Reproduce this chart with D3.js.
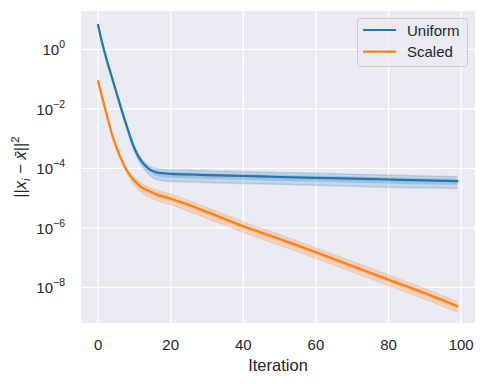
<!DOCTYPE html>
<html>
<head>
<meta charset="utf-8">
<script src="https://cdn.jsdelivr.net/npm/d3@7"></script>
<style>
  body { margin: 0; background: #fff; }
  svg text { font-family: "Liberation Sans", Arial, sans-serif; fill: #262626; }
</style>
</head>
<body>
<svg id="chart" width="486" height="384"></svg>
<script>
var iters = [0, 1, 2, 4, 6, 8, 10, 12, 14, 16, 18, 20, 25, 30, 40, 50, 60, 70, 80, 90, 99];

var uniformMean = [6.6, 1.9, 0.65, 0.095, 0.0145, 2.4e-3, 4.7e-4, 1.7e-4, 9.6e-5, 7.4e-5, 6.8e-5,
    6.5e-5, 6.2e-5, 5.9e-5, 5.5e-5, 5.1e-5, 4.8e-5, 4.5e-5, 4.2e-5, 3.9e-5, 3.7e-5];
var uniformHi = [7.2, 2.1, 0.71, 0.107, 0.0162, 2.75e-3, 5.5e-4, 2.0e-4, 1.2e-4, 9.8e-5, 9.1e-5,
    8.9e-5, 8.7e-5, 8.3e-5, 7.8e-5, 7.2e-5, 6.8e-5, 6.3e-5, 5.9e-5, 5.5e-5, 5.2e-5];
var uniformLo = [6.0, 1.7, 0.58, 0.083, 0.0123, 2.0e-3, 3.7e-4, 1.25e-4, 6.1e-5, 4.3e-5, 3.8e-5,
    3.6e-5, 3.5e-5, 3.3e-5, 3.1e-5, 2.9e-5, 2.7e-5, 2.5e-5, 2.3e-5, 2.2e-5, 2.1e-5];

var scaledMean = [0.085, 0.028, 0.0095, 1.2e-3, 2.6e-4, 8.1e-5, 3.8e-5, 2.3e-5, 1.74e-5, 1.35e-5, 1.12e-5,
    9.5e-6, 5.8e-6, 3.4e-6, 1.12e-6, 4.2e-7, 1.5e-7, 5.2e-8, 1.8e-8, 6.3e-9, 2.3e-9];
var scaledHi = [0.093, 0.031, 0.0105, 1.35e-3, 3.0e-4, 9.7e-5, 4.8e-5, 3.1e-5, 2.3e-5, 1.86e-5, 1.58e-5,
    1.35e-5, 8.1e-6, 4.8e-6, 1.58e-6, 5.9e-7, 2.1e-7, 7.4e-8, 2.6e-8, 8.9e-9, 3.3e-9];
var scaledLo = [0.078, 0.026, 8.5e-3, 1.05e-3, 2.2e-4, 6.5e-5, 2.75e-5, 1.55e-5, 1.1e-5, 8.5e-6, 7.1e-6,
    6.0e-6, 3.6e-6, 2.1e-6, 7.1e-7, 2.6e-7, 9.5e-8, 3.3e-8, 1.15e-8, 4.0e-9, 1.48e-9];

var xTicks = [0, 20, 40, 60, 80, 100];
var yTickExps = [0, -2, -4, -6, -8];
var seriesNames = ["Uniform", "Scaled"];
var seriesColors = ["#1f77b4", "#ff7f0e"];

var plotLeft = 81, plotRight = 475, plotTop = 11, plotBottom = 323;

var svg = d3.select("#chart");

var x = d3.scaleLinear().domain([-4.7, 103.8]).range([plotLeft, plotRight]);
var y = d3.scaleLog().domain([Math.pow(10, -9.2), Math.pow(10, 1.287)]).range([plotBottom, plotTop]);

svg.append("rect")
    .attr("x", plotLeft).attr("y", plotTop)
    .attr("width", plotRight - plotLeft).attr("height", plotBottom - plotTop)
    .attr("fill", "#eaeaf2");

// grid
svg.append("g").selectAll("line")
    .data(xTicks)
    .join("line")
        .attr("x1", d => x(d)).attr("x2", d => x(d))
        .attr("y1", plotTop).attr("y2", plotBottom)
        .attr("stroke", "#fff").attr("stroke-width", 1.2);

svg.append("g").selectAll("line")
    .data(yTickExps)
    .join("line")
        .attr("x1", plotLeft).attr("x2", plotRight)
        .attr("y1", d => y(Math.pow(10, d))).attr("y2", d => y(Math.pow(10, d)))
        .attr("stroke", "#fff").attr("stroke-width", 1.2);

var series = [
    { mean: uniformMean, hi: uniformHi, lo: uniformLo },
    { mean: scaledMean, hi: scaledHi, lo: scaledLo }
];

var area = d3.area()
    .x((d, i) => x(iters[i]))
    .y0(d => y(d[0]))
    .y1(d => y(d[1]))
    .curve(d3.curveMonotoneX);

var line = d3.line()
    .x((d, i) => x(iters[i]))
    .y(d => y(d))
    .curve(d3.curveMonotoneX);

var plot = svg.append("g");

series.forEach(function(s, k) {
    var c = seriesColors[k];
    var outer = s.lo.map((v, i) => [v, s.hi[i]]);
    var inner = s.lo.map((v, i) => [Math.sqrt(v * s.mean[i]), Math.sqrt(s.hi[i] * s.mean[i])]);
    plot.append("path").datum(outer)
        .attr("d", area).attr("fill", c).attr("fill-opacity", 0.18);
    plot.append("path").datum(inner)
        .attr("d", area).attr("fill", c).attr("fill-opacity", 0.22);
    [s.lo, s.hi].forEach(function(run) {
        plot.append("path").datum(run)
            .attr("d", line).attr("fill", "none")
            .attr("stroke", c).attr("stroke-opacity", 0.2).attr("stroke-width", 1.5);
    });
    plot.append("path").datum(s.mean)
        .attr("d", line).attr("fill", "none")
        .attr("stroke", c).attr("stroke-width", 2.2)
        .attr("stroke-linecap", "round");
});

// x tick labels
svg.append("g").selectAll("text")
    .data(xTicks)
    .join("text")
        .attr("x", d => x(d)).attr("y", 350)
        .attr("text-anchor", "middle")
        .style("font-size", "15px")
        .text(d => d);

svg.append("text")
    .attr("x", (plotLeft + plotRight) / 2).attr("y", 371)
    .attr("text-anchor", "middle")
    .style("font-size", "16.5px")
    .text("Iteration");

// y tick labels
var yLab = svg.append("g").selectAll("text")
    .data(yTickExps)
    .join("text")
        .attr("x", 65).attr("y", d => y(Math.pow(10, d)) + 6)
        .attr("text-anchor", "end")
        .style("font-size", "15px");
yLab.append("tspan").text("10");
yLab.append("tspan")
    .attr("dy", -7)
    .style("font-size", "10.5px")
    .text(d => d === 0 ? "0" : "\u2212" + Math.abs(d));

// y label
var yl = svg.append("text")
    .attr("transform", "translate(26," + ((plotTop + plotBottom) / 2) + ") rotate(-90)")
    .attr("text-anchor", "middle")
    .style("font-size", "16.5px");
yl.append("tspan").text("||");
yl.append("tspan").style("font-style", "italic").text("x");
yl.append("tspan").style("font-style", "italic").style("font-size", "11.5px").attr("dy", 4).text("i");
yl.append("tspan").attr("dy", -4).text(" \u2212 ");
yl.append("tspan").style("font-style", "italic").text("x\u0304");
yl.append("tspan").text("||");
yl.append("tspan").style("font-size", "11.5px").attr("dy", -7).text("2");

// legend
var lg = svg.append("g");
lg.append("rect")
    .attr("x", 357.5).attr("y", 18.5)
    .attr("width", 110).attr("height", 48)
    .attr("rx", 3)
    .attr("fill", "#eaeaf2").attr("fill-opacity", 0.8)
    .attr("stroke", "#cccccc").attr("stroke-width", 1);
seriesNames.forEach(function(name, i) {
    var yy = 30 + i * 21.7;
    lg.append("line")
        .attr("x1", 363).attr("x2", 396)
        .attr("y1", yy).attr("y2", yy)
        .attr("stroke", seriesColors[i]).attr("stroke-width", 2.2);
    lg.append("text")
        .attr("x", 407).attr("y", yy + 5.5)
        .style("font-size", "15px")
        .text(name);
});
</script>
</body>
</html>
